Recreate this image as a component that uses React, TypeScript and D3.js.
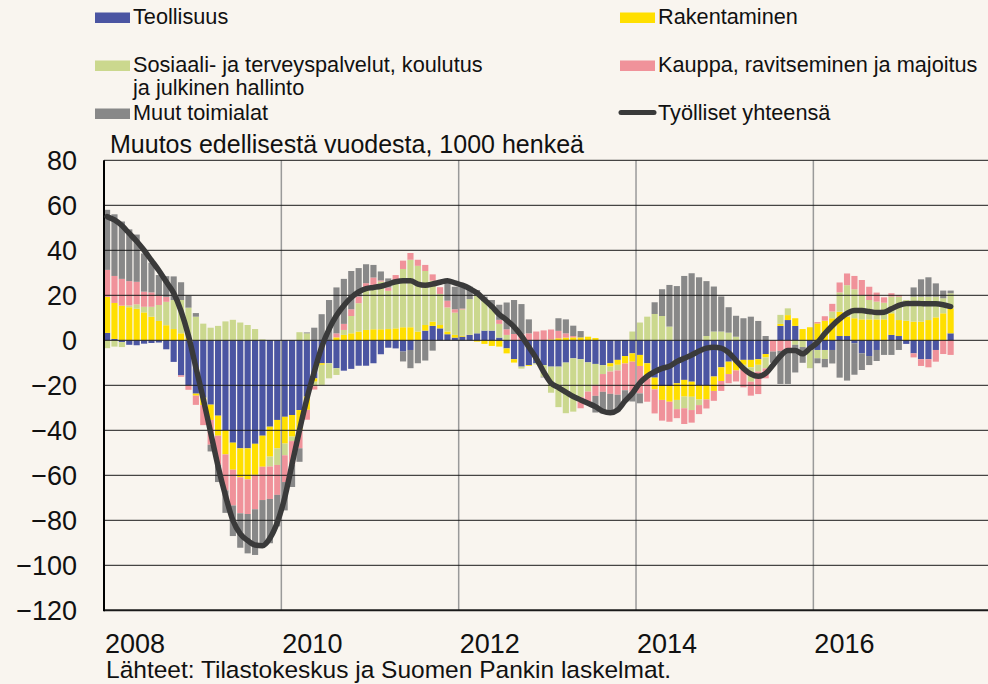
import { useMemo } from "react"
import * as d3 from "d3"

// Monthly data, Jan 2008 - Jul 2017, change from previous year, 1000 persons
const startMonth = new Date(2008, 0, 1)
const months = d3.timeMonth.range(startMonth, new Date(2017, 7, 1))

const teollisuus = [
  3.3, 0.6, -0.8, -2, -2.2, -1.5, -1.2, -1, -4, -9.6,
  -15.6, -20, -23.7, -25.5, -28.6, -33.5, -40, -45.5, -48, -48,
  -46, -42.4, -38.4, -35.4, -34, -33.2, -31, -25, -16.9, -10.2,
  -10.2, -12.4, -13.5, -12.7, -11.3, -11.3, -10.2, -6.2, -3.3, -3.6,
  -5, -4.3, 0, 4.3, 6.4, 5.3, 2.7, 1.2, 1.6, 2.4,
  3.1, 4.3, 4.3, 1.2, -3.6, -8.4, -11.7, -11, -10.2, -11,
  -11.7, -11.7, -9.9, -8, -8.4, -9.8, -10.5, -11, -10.2, -8.7,
  -7, -5.8, -6.5, -10.2, -16.6, -20.3, -20.3, -19.1, -17.6, -18.4,
  -19.9, -19.9, -16.1, -12, -9.5, -8.7, -8.7, -8.7, -8.4, -6.1,
  0, 6.4, 9, 6.4, 0, -4.3, -4.3, -4.3, -4.3, 1.9,
  1.9, -1.3, -5.8, -7, -4.3, 0, 2.4, 1.9, -1.6, -5.8,
  -8.4, -8.4, -4.3, 0, 3.1,
]
const rakentaminen = [
  16, 16, 15.4, 14.7, 14, 12.4, 10.5, 8.6, 6.7, 5,
  3.1, 1, -0.9, -3.3, -6.8, -8.9, -10.7, -12, -12.9, -13.8,
  -13.8, -13.8, -13.3, -12.6, -11.9, -9.6, -8.9, -5.9, -1.5, -0.7,
  0, 1.3, 2.4, 3.1, 3.9, 4.6, 4.9, 4.9, 5, 5.3,
  5.8, 5.8, 3.9, 2.5, 1.9, 1.5, 1.2, 1.2, 0.4, 0,
  -0.6, -1.6, -2.5, -2.8, -2.2, -1.5, 0, -0.4, 0, 0,
  0.4, 0.9, 1.2, 1.3, 1.3, 1.6, 1, 0, -1.5, -2.2,
  -3.3, -3.7, -4.9, -6.7, -5.2, -6.2, -7, -7.4, -7.4, -6.7,
  -6.4, -6.4, -6.4, -6.1, -5.5, -4.7, -2.2, -3.3, -2.5, -1.5,
  0, 0.9, 2.2, 3.4, 5, 5.8, 7.5, 8.7, 9.8, 10.8,
  8.6, 9.8, 9.3, 9.3, 9.3, 9.3, 9.6, 7.1, 8.7, 8.3,
  8.3, 9, 10.2, 12, 11.1,
]
const sosiaali = [
  -3.5, -2.8, -2.2, 0.8, 2, 2.5, 4.4, 7.1, 10.4, 12.9,
  14.8, 13.5, 10.5, 7.4, 5.6, 6.4, 8.4, 9.1, 7.9, 6.8,
  5, 0.4, -4.4, -7.4, -5.2, -2, 3.6, 3.1, -2, -8.9,
  -6.7, -3, 2.2, 7.7, 12.6, 17.8, 19.7, 21.2, 17, 20.7,
  25.9, 30, 29.2, 24, 18.2, 13.8, 10.7, 9.9, 11.7, 15.9,
  17, 13.6, 9.9, 6.1, 2.4, 0, -0.9, 0, -0.5, -5.2,
  -11.6, -18, -22.5, -23.7, -16.9, -13, -9.3, -4, -2.2, -2.5,
  0, 3.9, 7.9, 10.5, 11.7, 10.8, 6.1, -4.1, -5.2, -5.9,
  -2.5, 1.9, 3.9, 3.9, 3.4, 1.6, -2, -6.4, -3, -4.9,
  0, 4, 3, -2, -3, -8.1, -3.7, -4, 3, 8.6,
  14, 12.9, 10.8, 8.6, 7.9, 7.4, 7.4, 10.4, 9.2, 11.1,
  11.1, 10.4, 9.2, 6.7, 6.7,
]
const kauppa = [
  12, 12, 11.9, 10.8, 10, 6.7, 6.4, 4.1, 2.2, 0,
  -0.6, -2, -4.1, -8.9, -11, -13, -16, -15.9, -16, -15.4,
  -15.3, -14.8, -14.4, -13.3, -11.9, -10.4, -8.1, -4.4, -1.5, 0,
  0, 1.8, 2.7, 3, 3, 3, 3.3, 0.5, 1.5, 3,
  3.7, 3, 2.7, 2.7, 2.8, 3, 3, 1.5, 0.4, 0,
  0, 0, 0, 1.8, 2.5, 2.8, 2.8, 3.1, 3.9, 4.4,
  4.4, 3.3, 1.9, 0.6, -4.9, -5, -4.9, -7.9, -9.9, -10.8,
  -11.9, -14, -12.2, -10.4, -10.7, -9.2, -8.9, -4, -7, -5.6,
  -4, -4, -4.4, -4.4, -4.1, -4.9, -8, -6.2, -10, -4.4,
  -5, -4.7, -4.3, 0, 0, 0, 0.6, 2, 3.4, 4.4,
  5.2, 5.9, 6.7, 5.9, 4, 2.4, 1.5, 0.7, 0, -1.8,
  -3, -3.6, -5.2, -6.1, -6.5,
]
const muut = [
  26.7, 27.4, 25.5, 23, 21, 17, 13.2, 9.2, 9.2, 10.5,
  7.9, 5.3, 1.6, 0, -3, -7.6, -10, -13.6, -15.3, -17.5,
  -20.3, -20.7, -19.7, -14, -12.6, -10, -6, 0.4, 5.6, 11.6,
  17.9, 20.4, 20, 17, 12.6, 8.4, 5.6, 4, 4, 0,
  -4.4, -8.1, -10.2, -9, -4.6, 0, 7.9, 10, 9.6, 5.6,
  2.2, 1.5, 3.7, 6.7, 11.9, 15.1, 13.3, 6.2, 0, -0.3,
  0, 5.6, 6.2, 4.6, 2.8, 0, -7.4, -9.6, -8.6, -7.4,
  -5.2, -3.7, -4.4, 0, 5.2, 11.9, 18.5, 24.1, 28.6, 29.8,
  28, 24.4, 20, 15.6, 11.3, 9.3, 9.8, 10.5, 8.6, 1.9,
  -5, -14.7, -15.1, -12.3, -7, 0, -2.2, -3.7, -6, -16.6,
  -17.9, -14, -7.4, -4, -4.9, -6.5, -6.5, -4.3, 0, 4.1,
  7.7, 8.6, 5.9, 3.4, 1.2,
]
const tyolliset = [
  55, 53.5, 51, 47.5, 44, 40, 35.5, 31, 26, 21,
  13, 2, -12, -26, -41, -56, -69, -80, -86, -89,
  -91, -91.3, -88, -81, -70, -55, -40, -26, -14, -3,
  5, 11, 15.5, 19, 21.5, 23, 23.5, 24, 25, 26,
  26.5, 26.5, 25, 24.5, 25, 25.8, 26.5, 25.5, 24.5, 23,
  21, 18, 15, 11.5, 9, 6, 2, -3, -8, -14,
  -19, -21, -23, -25, -26.5, -28, -29.5, -31.5, -32.2, -31,
  -27, -23.5, -19, -16, -14, -12.5, -11.5, -9.5, -8, -6.5,
  -4.8, -3.5, -3.1, -3.5, -5.5, -9, -12.5, -15, -16, -14.7,
  -11, -7, -4.5, -4.5, -6, -3.5, -1, 3, 6.5, 9.5,
  12, 13.3, 13.2, 12.8, 12.4, 12.5, 14, 15.5, 16.3, 16.4,
  16.3, 16.2, 16.2, 15.8, 15,
]

const seriesKeys = ["teollisuus", "rakentaminen", "sosiaali", "kauppa", "muut"]
const seriesColors = ["#4b55a2", "#ffdf00", "#cbd88e", "#f0929a", "#888888"]
const seriesLabels = [
  ["Teollisuus"],
  ["Rakentaminen"],
  ["Sosiaali- ja terveyspalvelut, koulutus", "ja julkinen hallinto"],
  ["Kauppa, ravitseminen ja majoitus"],
  ["Muut toimialat"],
]
const lineLabel = "Työlliset yhteensä"
const yTicks = [80, 60, 40, 20, 0, -20, -40, -60, -80, -100, -120]
const xTickYears = [2008, 2010, 2012, 2014, 2016]
const gridYears = [2010, 2012, 2014, 2016]
const title = "Muutos edellisestä vuodesta, 1000 henkeä"
const source = "Lähteet: Tilastokeskus ja Suomen Pankin laskelmat."

const W = 988
const H = 684
const font = "'Liberation Sans', Arial, sans-serif"
const bg = "#f9f5ef"

export default function App() {
  const left = 104
  const right = 990.7
  const top = 160.3
  const bottom = 610.3

  const chart = useMemo(() => {
    const rows = months.map((m, i) => ({
      i,
      teollisuus: teollisuus[i],
      rakentaminen: rakentaminen[i],
      sosiaali: sosiaali[i],
      kauppa: kauppa[i],
      muut: muut[i],
    }))

    const x = d3.scaleBand<number>()
      .domain(d3.range(120))
      .range([left, right])
      .paddingInner(0.17)
      .paddingOuter(0)
      .align(0)
    const yearX = d3.scaleLinear().domain([2008, 2018]).range([left, right])
    const y = d3.scaleLinear().domain([-120, 80]).range([bottom, top])

    const stacked = d3.stack<any>()
      .keys(seriesKeys)
      .offset(d3.stackOffsetDiverging)(rows)

    const line = d3.line<number>()
      .x((_, i) => x(i)! + x.bandwidth() / 2)
      .y(d => y(d))
      .curve(d3.curveMonotoneX)

    return { x, yearX, y, stacked, linePath: line(tyolliset) }
  }, [])

  const { x, yearX, y, stacked, linePath } = chart

  const legendItems = [
    { col: 0, row: 0, k: 0 },
    { col: 1, row: 0, k: 1 },
    { col: 0, row: 1, k: 2 },
    { col: 1, row: 1, k: 3 },
    { col: 0, row: 2, k: 4 },
  ]
  const colX = [95, 620]
  const rowY = [23.5, 71.5, 119.5]

  return (
    <svg width={W} height={H} style={{ position: "absolute", left: 0, top: 0, background: bg }}
      fontFamily={font}>
      <rect width={W} height={H} fill={bg} />

      {/* legend */}
      {legendItems.map(({ col, row, k }) => (
        <g key={k}>
          <rect x={colX[col]} y={rowY[row] - 11} width={35} height={10.5} fill={seriesColors[k]} />
          {seriesLabels[k].map((t, j) => (
            <text key={j} x={colX[col] + 38} y={rowY[row] + j * 23} fontSize={21.7} fill="#111">{t}</text>
          ))}
        </g>
      ))}
      <line x1={colX[1] + 1} x2={colX[1] + 34} y1={rowY[2] - 7} y2={rowY[2] - 7}
        stroke="#3a3a3a" strokeWidth={5} strokeLinecap="round" />
      <text x={colX[1] + 38} y={rowY[2]} fontSize={21.7} fill="#111">{lineLabel}</text>

      <text x={110} y={152.5} fontSize={25} fill="#111">{title}</text>

      {/* bars */}
      {stacked.map((s, k) => (
        <g key={s.key} fill={seriesColors[k]}>
          {s.map((d, i) => {
            const y0 = y(d[0])
            const y1 = y(d[1])
            if (Math.abs(y1 - y0) < 0.01) return null
            return <rect key={i} x={x(i)} width={x.bandwidth()} y={Math.min(y0, y1)}
              height={Math.abs(y1 - y0)} />
          })}
        </g>
      ))}

      {/* grid */}
      {gridYears.map(yr => (
        <line key={yr} x1={yearX(yr)} x2={yearX(yr)} y1={top} y2={bottom}
          stroke="#9a9a9a" strokeWidth={1.5} />
      ))}
      {yTicks.map(v => (
        <line key={v} x1={left} x2={W} y1={y(v)} y2={y(v)}
          stroke="#1a1a1a" strokeWidth={v === -120 ? 2 : 1} />
      ))}
      <line x1={left} x2={left} y1={top} y2={bottom + 1} stroke="#000" strokeWidth={2} />

      {/* total line */}
      <path d={linePath ?? ""} fill="none" stroke="#3a3a3a" strokeWidth={5.5}
        strokeLinejoin="round" strokeLinecap="round" />

      {/* axis labels */}
      {yTicks.map(v => (
        <text key={v} x={77} y={y(v)} dy="0.36em" textAnchor="end" fontSize={27} fill="#111">
          {v < 0 ? `\u2212${Math.abs(v)}` : v}
        </text>
      ))}
      {xTickYears.map(yr => (
        <text key={yr} x={yearX(yr) + 1} y={653} fontSize={27} fill="#111">{yr}</text>
      ))}
      <text x={106} y={678} fontSize={24.5} fill="#111">{source}</text>
    </svg>
  )
}
